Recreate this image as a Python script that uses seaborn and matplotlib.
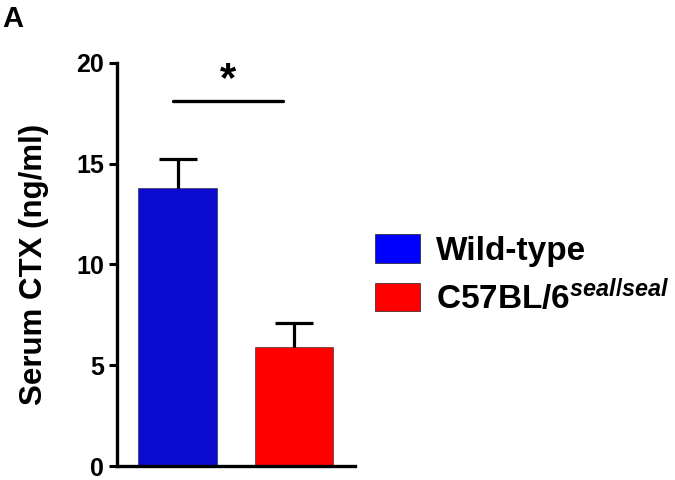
import numpy as np
import pandas as pd
import matplotlib
matplotlib.use("Agg")
import matplotlib.pyplot as plt
from matplotlib.patches import Patch
import seaborn as sns

# data
groups = ["Wild-type", "C57BL/6 seal/seal"]
means = [13.8, 5.9]
sem = [1.45, 1.2]
bar_colors = ["#0a0ad0", "#ff0000"]
legend_colors = ["#0000ff", "#ff0000"]
legend_labels = ["Wild-type", r"C57BL/6$^{\mathit{seal/seal}}$"]
y_ticks = [0, 5, 10, 15, 20]
sig_y = 18.1

sns.set_style("ticks")
plt.rcParams["font.family"] = ["Liberation Sans", "DejaVu Sans"]
plt.rcParams["mathtext.fontset"] = "custom"
plt.rcParams["mathtext.it"] = "Liberation Sans:italic:bold"
plt.rcParams["mathtext.rm"] = "Liberation Sans:bold"
for k in ["text.color", "axes.labelcolor", "xtick.color", "ytick.color"]:
    plt.rcParams[k] = "black"

df = pd.DataFrame({"group": groups, "ctx": means})

fig = plt.figure(figsize=(6.75, 4.8), dpi=100)
ax = fig.add_axes([0.173, 0.029, 0.353, 0.84])

# symmetric error bars drawn under the bars, only the upper arm shows
for i, (m, e) in enumerate(zip(means, sem)):
    ax.errorbar(i, m, yerr=e, color="black", lw=2.3,
                capsize=14, capthick=2.3, zorder=1)

sns.barplot(data=df, x="group", y="ctx", hue="group", palette=bar_colors,
            saturation=1, width=0.67, errorbar=None, legend=False, ax=ax,
            zorder=2, edgecolor="#202020", linewidth=0.4)

ax.set_xlim(-0.52, 1.52)
ax.set_ylim(0, 20)
ax.set_yticks(y_ticks)
ax.set_yticklabels([str(t) for t in y_ticks], fontsize=18, fontweight="bold")
ax.set_xticks([])
ax.set_xlabel("")
ax.set_ylabel("Serum CTX (ng/ml)", fontsize=22.5, fontweight="bold", labelpad=20)
ax.tick_params(axis="y", length=6, width=2.2, direction="out", pad=3)

sns.despine(ax=ax)
for s in ["left", "bottom"]:
    ax.spines[s].set_linewidth(2.4)
    ax.spines[s].set_color("black")

# significance bar
ax.plot([-0.04, 0.9], [sig_y, sig_y], color="black", lw=2.4, clip_on=False)
ax.text(0.43, sig_y + 0.05, "*", ha="center", va="bottom",
        fontsize=30, fontweight="bold")

handles = [Patch(facecolor=c, edgecolor="#202020", linewidth=0.5)
           for c in legend_colors]
fig.legend(handles, legend_labels, loc="upper left",
           bbox_to_anchor=(0.555, 0.512), frameon=False,
           prop={"size": 24, "weight": "bold"},
           handlelength=1.35, handleheight=0.95, handletextpad=0.5,
           labelspacing=0.35, borderpad=0, borderaxespad=0)

fig.text(0.004, 0.99, "A", fontsize=21, fontweight="bold", va="top")

fig.savefig("out.png", dpi=100)
